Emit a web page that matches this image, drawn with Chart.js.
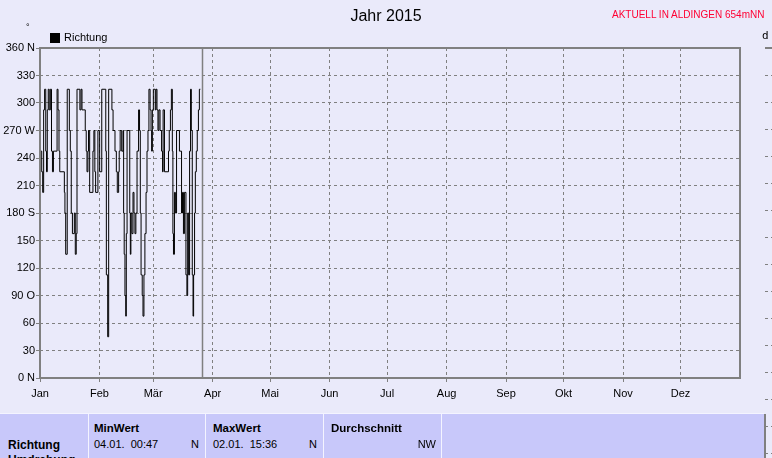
<!DOCTYPE html>
<html>
<head>
<meta charset="utf-8">
<script src="https://cdn.jsdelivr.net/npm/chart.js@4/dist/chart.umd.min.js"></script>
<style>
  html, body { margin:0; padding:0; background:#EAEAFA; width:772px; height:458px; overflow:hidden; font-family:"Liberation Sans", Arial, sans-serif; }
  #wrap { position:relative; width:772px; height:458px; }
  canvas { position:absolute; left:0; top:0; }
  .abs { position:absolute; white-space:nowrap; }
  #title { left:0; width:772px; top:7px; text-align:center; font-size:16px; color:#000; }
  #aktuell { left:612px; top:9px; font-size:10px; color:#FF0033; }
  #legbox { left:50px; top:33px; width:10px; height:10px; background:#000; }
  #legtxt { left:64px; top:31px; font-size:11px; color:#000; }
  #deg { left:26px; top:22px; font-size:9px; }
  #dd { left:762px; top:29px; font-size:11px; font-family:"DejaVu Sans Mono", monospace; }
  #table { left:0; top:413px; width:764px; height:45px; background:#C8C8FA; border-top:1px solid #F4F4FF; }
  .cell { position:absolute; top:0; height:45px; border-left:1px solid #F4F4FF; }
  .hd { position:absolute; top:8px; font-size:11.5px; font-weight:bold; }
  .val { position:absolute; top:24px; font-size:11px; }
</style>
</head>
<body>
<div id="wrap">
  <canvas id="c" width="772" height="458"></canvas>
  <div class="abs" id="title">Jahr 2015</div>
  <div class="abs" id="aktuell">AKTUELL IN ALDINGEN 654mNN</div>
  <div class="abs" id="deg">°</div>
  <div class="abs" id="legbox"></div>
  <div class="abs" id="legtxt">Richtung</div>
  <div class="abs" id="dd">d</div>
  <div class="abs" id="table">
    <div class="hd" style="left:8px;top:24px;font-size:12px;">Richtung</div>
    <div class="hd" style="left:8px;top:39px;font-size:12px;">Umdrehung</div>
    <div class="cell" style="left:88px;width:116px;">
      <div class="hd" style="left:5px;">MinWert</div>
      <div class="val" style="left:5px;">04.01.&nbsp; 00:47</div>
      <div class="val" style="right:6px;">N</div>
    </div>
    <div class="cell" style="left:205px;width:117px;">
      <div class="hd" style="left:7px;">MaxWert</div>
      <div class="val" style="left:7px;">02.01.&nbsp; 15:36</div>
      <div class="val" style="right:6px;">N</div>
    </div>
    <div class="cell" style="left:323px;width:117px;">
      <div class="hd" style="left:7px;">Durchschnitt</div>
      <div class="val" style="right:5px;">NW</div>
    </div>
    <div class="cell" style="left:441px;width:322px;border-right:2px solid #808080;"></div>
  </div>
</div>
<script>
// ---- Data ----
const monate = ['Jan','Feb','Mär','Apr','Mai','Jun','Jul','Aug','Sep','Okt','Nov','Dez'];
const monatsBeginn = [0,31,59,90,120,151,181,212,243,273,304,334];
const yTickLabels = ['0 N','30','60','90 O','120','150','180 S','210','240','270 W','300','330','360 N'];
const aktuellerTag = 84.3;

const tage = [0,0.9,1.4,1.9,2.4,3.0,3.4,3.8,4.3,4.8,5.4,6.0,6.5,7.0,8.9,9.4,9.9,10.3,12.7,13.0,
  13.4,14.2,15.3,15.8,16.3,16.9,17.9,18.4,18.9,19.3,20.8,21.4,21.9,23.6,24.1,24.5,25.0,25.3,25.9,27.6,
  28.1,28.6,29.0,30.2,31.1,32.2,34.3,34.6,35.3,35.8,37.5,38.1,39.1,39.8,40.3,41.0,41.3,41.8,42.6,43.3,
  43.6,43.9,44.3,44.7,45.0,45.4,46.8,47.1,47.4,47.9,48.5,49.0,49.5,50.0,50.6,51.4,51.9,52.3,52.7,53.3,
  53.7,54.2,54.7,55.3,55.8,56.3,56.8,57.4,57.9,58.2,58.6,59.1,60.1,60.5,61.0,61.5,62.0,62.6,63.4,63.9,
  64.2,64.9,67.0,67.4,68.0,68.5,69.0,69.3,69.6,70.1,70.6,71.2,72.7,73.8,74.3,74.8,75.3,76.1,76.6,77.0,
  77.5,78.0,78.5,78.9,79.4,79.8,80.1,80.6,81.0,81.5,82.0,82.6,83.1,83.6];
const richtung = [247.5,225,202.5,292.5,315,247.5,225,292.5,315,292.5,315,247.5,225,247.5,315,292.5,247.5,225,202.5,180,
  135,315,270,247.5,180,157.5,180,135,157.5,315,292.5,315,292.5,270,247.5,225,247.5,270,202.5,247.5,
  270,225,202.5,270,225,315,247.5,112.5,45,315,292.5,270,247.5,225,202.5,225,247.5,270,247.5,270,
  180,135,90,67.5,157.5,270,180,135,180,157.5,202.5,180,157.5,180,247.5,292.5,270,180,112.5,90,
  67.5,112.5,157.5,202.5,247.5,270,315,292.5,270,247.5,292.5,315,292.5,315,292.5,270,292.5,270,247.5,225,
  292.5,225,247.5,270,292.5,315,247.5,157.5,135,202.5,180,270,247.5,180,202.5,157.5,202.5,112.5,90,180,
  112.5,247.5,315,270,112.5,67.5,112.5,180,225,247.5,270,292.5,315,315];

const punkte = tage.map((t, i) => ({ x: t, y: richtung[i] }));

const FONT = '"Liberation Sans", Arial, sans-serif';

const deko = {
  id: 'deko',
  afterDatasetsDraw(chart) {
    const { ctx, chartArea: a, scales } = chart;
    ctx.save();
    const xv = Math.round(scales.x.getPixelForValue(aktuellerTag)) + 0.5;
    ctx.strokeStyle = '#808080';
    ctx.lineWidth = 1.5;
    ctx.beginPath(); ctx.moveTo(xv, a.top); ctx.lineTo(xv, a.bottom); ctx.stroke();
    ctx.lineWidth = 2;
    ctx.strokeRect(a.left, a.top, a.right - a.left, a.bottom - a.top);
    ctx.beginPath(); ctx.moveTo(765, a.top); ctx.lineTo(772, a.top); ctx.stroke();
    ctx.lineWidth = 1;
    ctx.setLineDash([3, 3]);
    for (let y = 75; y < 458; y += 27) {
      ctx.beginPath(); ctx.moveTo(765, y + 0.5); ctx.lineTo(772, y + 0.5); ctx.stroke();
    }
    ctx.restore();
  }
};

new Chart(document.getElementById('c'), {
  type: 'line',
  data: {
    datasets: [{
      label: 'Richtung',
      data: punkte,
      borderColor: '#000',
      borderWidth: 1,
      pointRadius: 0,
      stepped: true,
      fill: false
    }]
  },
  options: {
    responsive: false,
    animation: false,
    devicePixelRatio: 1,
    layout: { padding: { left: 0, right: 32, top: 48, bottom: 50 } },
    plugins: { legend: { display: false }, title: { display: false }, tooltip: { enabled: false } },
    scales: {
      x: {
        type: 'linear',
        min: 0, max: 365,
        afterBuildTicks: (s) => { s.ticks = monatsBeginn.map(v => ({ value: v })); },
        afterFit: (s) => { s.height = 30; },
        ticks: {
          callback: (v) => monate[monatsBeginn.indexOf(v)],
          color: '#000', font: { family: FONT, size: 11 }, padding: 5, maxRotation: 0, autoSkip: false
        },
        grid: { color: '#808080', lineWidth: 1, drawTicks: true, tickLength: 4, tickColor: '#808080' },
        border: { display: false, dash: [3, 3] }
      },
      y: {
        min: 0, max: 360,
        afterFit: (s) => { s.width = 40; },
        ticks: {
          stepSize: 30,
          callback: (v) => yTickLabels[Math.round(v / 30)],
          color: '#000', font: { family: FONT, size: 11 }, padding: 1
        },
        grid: { color: '#808080', lineWidth: 1, drawTicks: true, tickLength: 4, tickColor: '#808080' },
        border: { display: false, dash: [3, 3] }
      }
    }
  },
  plugins: [deko]
});
</script>
</body>
</html>
